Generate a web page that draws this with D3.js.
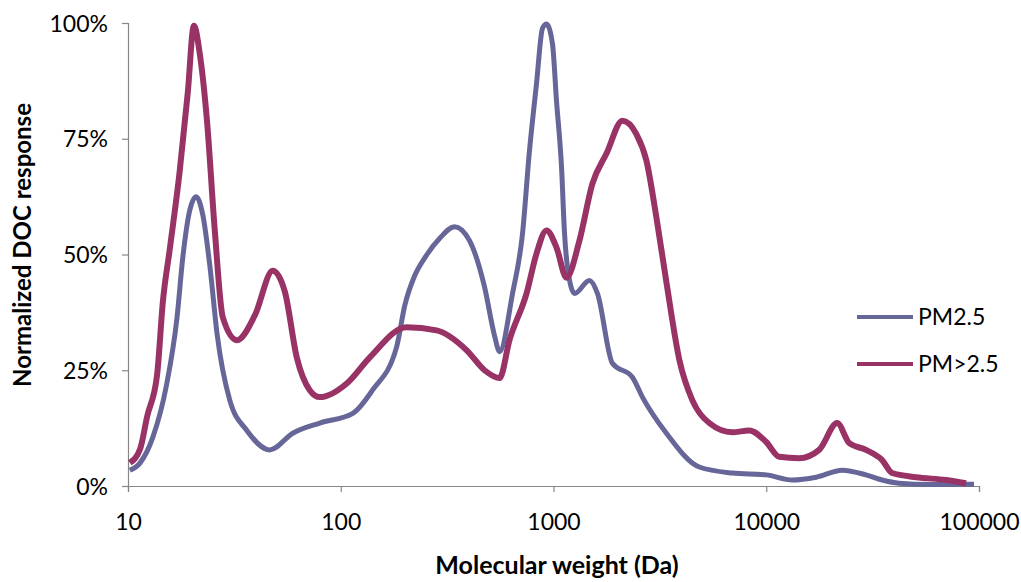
<!DOCTYPE html>
<html>
<head>
<meta charset="utf-8">
<script src="https://cdn.jsdelivr.net/npm/d3@7"></script>
<style>
  html, body { margin: 0; padding: 0; background: #fff; }
  svg { display: block; }
  text { font-family: Lato, "Open Sans", sans-serif; fill: #000; }
</style>
</head>
<body>
<svg id="chart" width="1021" height="582"></svg>
<script>
// ---- data ----
const seriesNames = ["PM2.5", "PM>2.5"];
const xTicks = [10, 100, 1000, 10000, 100000];
const yTicks = [0, 0.25, 0.5, 0.75, 1];

// PM2.5: molecular weight (Da) and normalized response (%)
const mwPM25 = [10.2, 11.4, 13.1, 15.2, 17.0, 18.1, 19.5, 20.9, 22.5, 24.3, 26.2, 30.1, 36.2, 46.4, 59.5, 79.7,
  114, 141, 183, 200, 223, 250, 292, 343, 403, 474, 528, 558, 642, 715, 771, 832, 888, 927, 989, 1033, 1091, 1127,
  1164, 1256, 1476, 1609, 1892, 2349, 2618, 3394, 4843, 6925, 10000, 13246, 17170, 22752, 29440, 35060, 42073,
  58210, 80546, 94812];
const valPM25 = [3.4, 5, 10.6, 22, 36.4, 49.4, 59.5, 62.5, 58.4, 47.2, 33, 18.5, 12, 7.8, 11.4, 13.6,
  15.7, 20.7, 30, 39, 45.5, 49.5, 53.5, 56, 53, 43, 32.5, 29, 41.6, 54.5, 72.4, 86.9, 98.9, 99.8, 95.5, 83.2, 68.8, 54.5,
  47.2, 41.6, 44.4, 41.6, 26.5, 23.5, 19.2, 11.4, 4.1, 2.8, 2.4, 1.3, 1.9, 3.4, 2.4, 1.3, 0.6,
  0.3, 0.4, 0.4];

// PM>2.5
const mwPMc = [10.2, 11.4, 12.3, 13.7, 14.6, 15.7, 17.5, 19.1, 20.4, 21.8, 23.5, 25.6, 27.9, 32.5, 39.5, 47.9,
  54.6, 62.1, 71.5, 79.7, 107, 137, 204, 282, 391, 474, 558, 621, 747, 832, 927, 1033, 1151, 1324, 1524, 1774,
  2109, 2453, 2733, 3046, 3394, 3906, 4497, 5397, 6925, 8322, 10000, 11508, 14281, 17725, 21544, 24532, 29440,
  35060, 39076, 50587, 70000, 86896];
const valPMc = [5, 8, 15, 24, 40, 51, 68, 85, 99.4, 93, 79, 55, 36.4, 31.5, 36.9, 46.5,
  42, 27.8, 20.7, 19.2, 22.2, 27.8, 34.3, 33.6, 29.3, 25, 23.3, 31.5, 41.6, 50.2, 55.2, 51.5, 45, 53, 65.3, 71.8,
  78.9, 76, 70.3, 58, 44, 27.2, 18.5, 13.6, 11.6, 12, 9.5, 6.3, 6, 7.8, 13.6, 9.3, 7.8,
  5.6, 2.8, 1.9, 1.3, 0.6];

const colors = ["#666699", "#993366"];

// ---- chart ----
const svg = d3.select("#chart");
const margin = { left: 128, right: 42, top: 23, bottom: 96 };
const W = 1021, H = 582;

const x = d3.scaleLog().domain([10, 100000]).range([margin.left, W - margin.right]);
const y = d3.scaleLinear().domain([0, 1]).range([H - margin.bottom, margin.top]);

const axisColor = "#868686";

const gx = svg.append("g")
  .attr("transform", `translate(0,${H - margin.bottom})`)
  .call(d3.axisBottom(x).tickValues(xTicks).tickFormat(d3.format("d")).tickSize(6).tickPadding(22));
const gy = svg.append("g")
  .attr("transform", `translate(${margin.left},0)`)
  .call(d3.axisLeft(y).tickValues(yTicks).tickFormat(d3.format(".0%")).tickSize(6).tickPadding(14));

[gx, gy].forEach(g => {
  g.select(".domain").attr("stroke", axisColor).attr("stroke-width", 1.2);
  g.selectAll(".tick line").attr("stroke", axisColor).attr("stroke-width", 1.2);
  g.selectAll(".tick text").attr("font-size", 23).attr("font-family", "Lato, sans-serif").attr("fill", "#000");
});
gy.selectAll(".tick text").attr("dy", "0.35em");

const line = d3.line().x(d => x(d[0])).y(d => y(d[1] / 100)).curve(d3.curveMonotoneX);

const series = [
  { name: seriesNames[0], data: d3.zip(mwPM25, valPM25), color: colors[0], width: 5 },
  { name: seriesNames[1], data: d3.zip(mwPMc, valPMc), color: colors[1], width: 6 }
];

svg.append("g").selectAll("path").data(series).join("path")
  .attr("d", d => line(d.data))
  .attr("fill", "none")
  .attr("stroke", d => d.color)
  .attr("stroke-width", d => d.width)
  .attr("stroke-linejoin", "round");

// axis titles
svg.append("text")
  .attr("x", 557).attr("y", 574)
  .attr("text-anchor", "middle")
  .attr("font-size", 25).attr("font-weight", "bold")
  .text("Molecular weight (Da)");

svg.append("text")
  .attr("transform", "translate(31,245) rotate(-90)")
  .attr("text-anchor", "middle")
  .attr("font-size", 24).attr("font-weight", "bold")
  .text("Normalized DOC response");

// legend
const lg = svg.append("g").selectAll("g").data(series).join("g")
  .attr("transform", (d, i) => `translate(857,${317 + i * 47})`);
lg.append("line").attr("x1", 0).attr("x2", 56).attr("y1", 0).attr("y2", 0)
  .attr("stroke", d => d.color).attr("stroke-width", 4);
lg.append("text").attr("x", 61).attr("y", 0).attr("dy", "0.35em")
  .attr("font-size", 23).text(d => d.name);
</script>
</body>
</html>
